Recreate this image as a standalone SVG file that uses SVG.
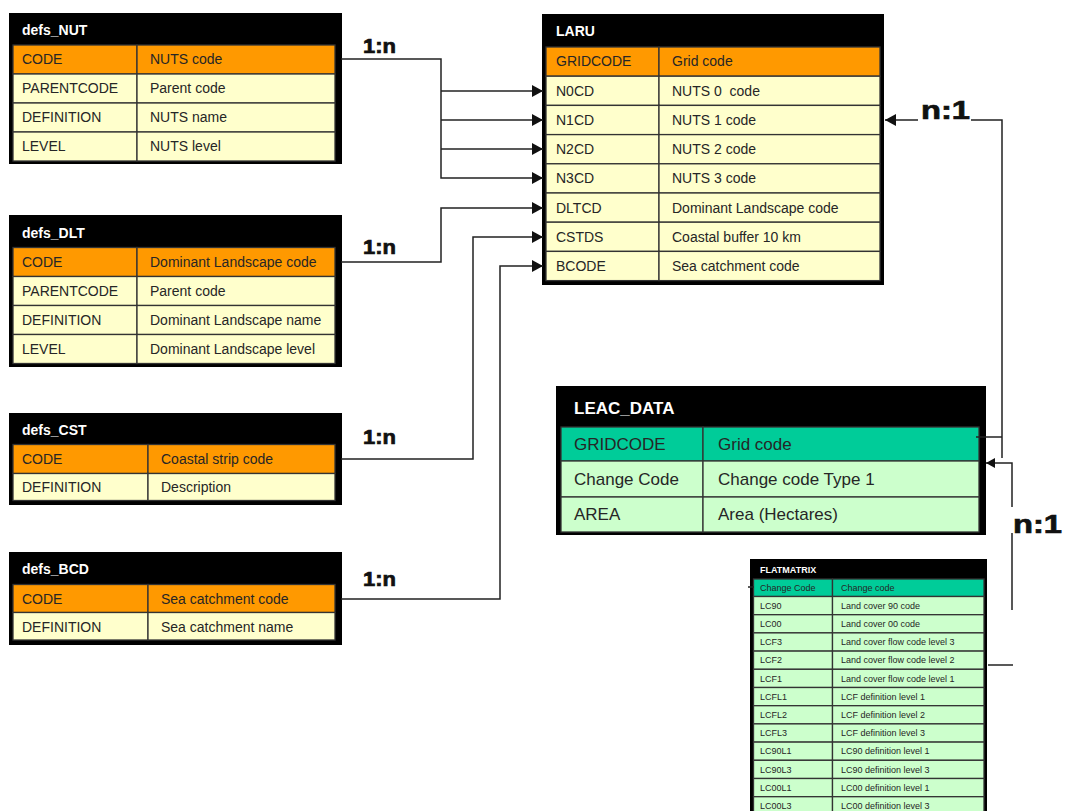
<svg xmlns="http://www.w3.org/2000/svg" width="1065" height="811" viewBox="0 0 1065 811">
<style>
.box{fill:#000}
.pk{fill:#FF9900;stroke:#333;stroke-width:1.3}
.row{fill:#FFFFCC;stroke:#333;stroke-width:1.3}
.gpk{fill:#00CC99;stroke:#333;stroke-width:1.3}
.grow{fill:#CCFFCC;stroke:#333;stroke-width:1.3}
text{font-family:"Liberation Sans",Arial,sans-serif;fill:#262626}
.t{font-size:14px}
.tl{font-size:17px}
.ts{font-size:9px}
.title{font-weight:bold;fill:#fff}
.conn{fill:none;stroke:#222;stroke-width:1.5}
.lbl{font-weight:bold;fill:#111;stroke:#111;stroke-width:0.7}
</style>
<defs>
<marker id="arr" markerUnits="userSpaceOnUse" markerWidth="12" markerHeight="12" refX="11" refY="6" orient="auto">
<path d="M0,0 L11,6 L0,12 z" fill="#111"/>
</marker>
<marker id="arrs" markerUnits="userSpaceOnUse" markerWidth="10" markerHeight="10" refX="9" refY="5" orient="auto">
<path d="M0,0 L9,5 L0,10 z" fill="#111"/>
</marker>
</defs>

<g id="defs_NUT">
<rect class="box" x="9" y="13" width="333" height="151"/>
<text class="t title" x="22" y="35">defs_NUT</text>
<rect class="pk" x="13" y="45" width="124" height="29"/><rect class="pk" x="137" y="45" width="198" height="29"/>
<rect class="row" x="13" y="74" width="124" height="29"/><rect class="row" x="137" y="74" width="198" height="29"/>
<rect class="row" x="13" y="103" width="124" height="29"/><rect class="row" x="137" y="103" width="198" height="29"/>
<rect class="row" x="13" y="132" width="124" height="29"/><rect class="row" x="137" y="132" width="198" height="29"/>
<text class="t" x="22" y="64">CODE</text><text class="t" x="150" y="64">NUTS code</text>
<text class="t" x="22" y="93">PARENTCODE</text><text class="t" x="150" y="93">Parent code</text>
<text class="t" x="22" y="122">DEFINITION</text><text class="t" x="150" y="122">NUTS name</text>
<text class="t" x="22" y="151">LEVEL</text><text class="t" x="150" y="151">NUTS level</text>
</g>

<g id="defs_DLT">
<rect class="box" x="9" y="215" width="333" height="152"/>
<text class="t title" x="22" y="238">defs_DLT</text>
<rect class="pk" x="13" y="247.5" width="124" height="29"/><rect class="pk" x="137" y="247.5" width="198" height="29"/>
<rect class="row" x="13" y="276.5" width="124" height="29"/><rect class="row" x="137" y="276.5" width="198" height="29"/>
<rect class="row" x="13" y="305.5" width="124" height="29"/><rect class="row" x="137" y="305.5" width="198" height="29"/>
<rect class="row" x="13" y="334.5" width="124" height="29"/><rect class="row" x="137" y="334.5" width="198" height="29"/>
<text class="t" x="22" y="267">CODE</text><text class="t" x="150" y="267">Dominant Landscape code</text>
<text class="t" x="22" y="296">PARENTCODE</text><text class="t" x="150" y="296">Parent code</text>
<text class="t" x="22" y="325">DEFINITION</text><text class="t" x="150" y="325">Dominant Landscape name</text>
<text class="t" x="22" y="354">LEVEL</text><text class="t" x="150" y="354">Dominant Landscape level</text>
</g>

<g id="defs_CST">
<rect class="box" x="9" y="413" width="333" height="92"/>
<text class="t title" x="22" y="435">defs_CST</text>
<rect class="pk" x="13" y="444.5" width="135" height="29"/><rect class="pk" x="148" y="444.5" width="187" height="29"/>
<rect class="row" x="13" y="473.5" width="135" height="27"/><rect class="row" x="148" y="473.5" width="187" height="27"/>
<text class="t" x="22" y="464">CODE</text><text class="t" x="161" y="464">Coastal strip code</text>
<text class="t" x="22" y="492">DEFINITION</text><text class="t" x="161" y="492">Description</text>
</g>

<g id="defs_BCD">
<rect class="box" x="9" y="552" width="333" height="93"/>
<text class="t title" x="22" y="574">defs_BCD</text>
<rect class="pk" x="13" y="584.5" width="135" height="28"/><rect class="pk" x="148" y="584.5" width="187" height="28"/>
<rect class="row" x="13" y="612.5" width="135" height="27.5"/><rect class="row" x="148" y="612.5" width="187" height="27.5"/>
<text class="t" x="22" y="604">CODE</text><text class="t" x="161" y="604">Sea catchment code</text>
<text class="t" x="22" y="632">DEFINITION</text><text class="t" x="161" y="632">Sea catchment name</text>
</g>

<g id="LARU">
<rect class="box" x="542" y="14" width="342" height="271"/>
<text class="t title" x="556" y="36">LARU</text>
<rect class="pk" x="546" y="47" width="113" height="29.2"/><rect class="pk" x="659" y="47" width="221" height="29.2"/>
<rect class="row" x="546" y="76.2" width="113" height="29.2"/><rect class="row" x="659" y="76.2" width="221" height="29.2"/>
<rect class="row" x="546" y="105.4" width="113" height="29.2"/><rect class="row" x="659" y="105.4" width="221" height="29.2"/>
<rect class="row" x="546" y="134.6" width="113" height="29.2"/><rect class="row" x="659" y="134.6" width="221" height="29.2"/>
<rect class="row" x="546" y="163.8" width="113" height="29.2"/><rect class="row" x="659" y="163.8" width="221" height="29.2"/>
<rect class="row" x="546" y="193" width="113" height="29.2"/><rect class="row" x="659" y="193" width="221" height="29.2"/>
<rect class="row" x="546" y="222.2" width="113" height="29.2"/><rect class="row" x="659" y="222.2" width="221" height="29.2"/>
<rect class="row" x="546" y="251.4" width="113" height="29.2"/><rect class="row" x="659" y="251.4" width="221" height="29.2"/>
<text class="t" x="556" y="66">GRIDCODE</text><text class="t" x="672" y="66">Grid code</text>
<text class="t" x="556" y="96">N0CD</text><text class="t" x="672" y="96" style="white-space:pre">NUTS 0  code</text>
<text class="t" x="556" y="125">N1CD</text><text class="t" x="672" y="125">NUTS 1 code</text>
<text class="t" x="556" y="154">N2CD</text><text class="t" x="672" y="154">NUTS 2 code</text>
<text class="t" x="556" y="183">N3CD</text><text class="t" x="672" y="183">NUTS 3 code</text>
<text class="t" x="556" y="213">DLTCD</text><text class="t" x="672" y="213">Dominant Landscape code</text>
<text class="t" x="556" y="242">CSTDS</text><text class="t" x="672" y="242">Coastal buffer 10 km</text>
<text class="t" x="556" y="271">BCODE</text><text class="t" x="672" y="271">Sea catchment code</text>
</g>

<g id="LEAC_DATA">
<rect class="box" x="556" y="386" width="430" height="149"/>
<text class="tl title" x="574" y="414">LEAC_DATA</text>
<rect class="gpk" x="561" y="427" width="142" height="34"/><rect class="gpk" x="703" y="427" width="276" height="34"/>
<rect class="grow" x="561" y="461" width="142" height="36"/><rect class="grow" x="703" y="461" width="276" height="36"/>
<rect class="grow" x="561" y="497" width="142" height="35"/><rect class="grow" x="703" y="497" width="276" height="35"/>
<text class="tl" x="574" y="450">GRIDCODE</text><text class="tl" x="718" y="450">Grid code</text>
<text class="tl" x="574" y="485">Change Code</text><text class="tl" x="718" y="485">Change code Type 1</text>
<text class="tl" x="574" y="520">AREA</text><text class="tl" x="718" y="520">Area (Hectares)</text>
</g>

<g id="FLATMATRIX">
<rect class="box" x="750" y="559" width="237" height="260"/>
<text class="ts title" x="760" y="573">FLATMATRIX</text>
<rect class="gpk" x="753.5" y="579" width="79" height="17.5"/><rect class="gpk" x="832.5" y="579" width="151.5" height="17.5"/>
<text class="ts" x="760" y="591">Change Code</text><text class="ts" x="841" y="591">Change code</text>
<g>
<rect class="grow" x="753.5" y="596.5" width="79" height="18.2"/><rect class="grow" x="832.5" y="596.5" width="151.5" height="18.2"/>
<rect class="grow" x="753.5" y="614.7" width="79" height="18.2"/><rect class="grow" x="832.5" y="614.7" width="151.5" height="18.2"/>
<rect class="grow" x="753.5" y="632.9" width="79" height="18.2"/><rect class="grow" x="832.5" y="632.9" width="151.5" height="18.2"/>
<rect class="grow" x="753.5" y="651.1" width="79" height="18.2"/><rect class="grow" x="832.5" y="651.1" width="151.5" height="18.2"/>
<rect class="grow" x="753.5" y="669.3" width="79" height="18.2"/><rect class="grow" x="832.5" y="669.3" width="151.5" height="18.2"/>
<rect class="grow" x="753.5" y="687.5" width="79" height="18.2"/><rect class="grow" x="832.5" y="687.5" width="151.5" height="18.2"/>
<rect class="grow" x="753.5" y="705.7" width="79" height="18.2"/><rect class="grow" x="832.5" y="705.7" width="151.5" height="18.2"/>
<rect class="grow" x="753.5" y="723.9" width="79" height="18.2"/><rect class="grow" x="832.5" y="723.9" width="151.5" height="18.2"/>
<rect class="grow" x="753.5" y="742.1" width="79" height="18.2"/><rect class="grow" x="832.5" y="742.1" width="151.5" height="18.2"/>
<rect class="grow" x="753.5" y="760.3" width="79" height="18.2"/><rect class="grow" x="832.5" y="760.3" width="151.5" height="18.2"/>
<rect class="grow" x="753.5" y="778.5" width="79" height="18.2"/><rect class="grow" x="832.5" y="778.5" width="151.5" height="18.2"/>
<rect class="grow" x="753.5" y="796.7" width="79" height="18.2"/><rect class="grow" x="832.5" y="796.7" width="151.5" height="18.2"/>
</g>
<text class="ts" x="760" y="609">LC90</text><text class="ts" x="841" y="609">Land cover 90 code</text>
<text class="ts" x="760" y="627">LC00</text><text class="ts" x="841" y="627">Land cover 00 code</text>
<text class="ts" x="760" y="645">LCF3</text><text class="ts" x="841" y="645">Land cover flow code level 3</text>
<text class="ts" x="760" y="663">LCF2</text><text class="ts" x="841" y="663">Land cover flow code level 2</text>
<text class="ts" x="760" y="681.5">LCF1</text><text class="ts" x="841" y="681.5">Land cover flow code level 1</text>
<text class="ts" x="760" y="699.5">LCFL1</text><text class="ts" x="841" y="699.5">LCF definition level 1</text>
<text class="ts" x="760" y="718">LCFL2</text><text class="ts" x="841" y="718">LCF definition level 2</text>
<text class="ts" x="760" y="736">LCFL3</text><text class="ts" x="841" y="736">LCF definition level 3</text>
<text class="ts" x="760" y="754">LC90L1</text><text class="ts" x="841" y="754">LC90 definition level 1</text>
<text class="ts" x="760" y="772.5">LC90L3</text><text class="ts" x="841" y="772.5">LC90 definition level 3</text>
<text class="ts" x="760" y="790.5">LC00L1</text><text class="ts" x="841" y="790.5">LC00 definition level 1</text>
<text class="ts" x="760" y="809">LC00L3</text><text class="ts" x="841" y="809">LC00 definition level 3</text>
</g>

<g id="connectors">
<path class="conn" d="M341,59 H441 V178 H543" marker-end="url(#arr)"/>
<path class="conn" d="M441,91 H543" marker-end="url(#arr)"/>
<path class="conn" d="M441,120 H543" marker-end="url(#arr)"/>
<path class="conn" d="M441,149 H543" marker-end="url(#arr)"/>
<path class="conn" d="M341,262 H441 V208 H543" marker-end="url(#arr)"/>
<path class="conn" d="M341,459 H473 V237 H543" marker-end="url(#arr)"/>
<path class="conn" d="M341,599 H500 V266 H543" marker-end="url(#arr)"/>
<path class="conn" d="M1002,458 V120 H971 M918,120 H885" marker-end="url(#arr)"/>
<path class="conn" d="M976,437 H1002"/>
<path class="conn" d="M1012,610 V533 M1012,507 V463 H986" marker-end="url(#arrs)"/>
<path class="conn" d="M988,665 H1013"/>
<path class="conn" d="M748,587 H754"/>
<text class="lbl" x="363" y="53" font-size="20" textLength="33" lengthAdjust="spacingAndGlyphs">1:n</text>
<text class="lbl" x="363" y="254" font-size="20" textLength="33" lengthAdjust="spacingAndGlyphs">1:n</text>
<text class="lbl" x="363" y="444" font-size="20" textLength="33" lengthAdjust="spacingAndGlyphs">1:n</text>
<text class="lbl" x="363" y="586" font-size="20" textLength="33" lengthAdjust="spacingAndGlyphs">1:n</text>
<text class="lbl" x="921" y="119" font-size="25" textLength="49" lengthAdjust="spacingAndGlyphs">n:1</text>
<text class="lbl" x="1013" y="533" font-size="25" textLength="49" lengthAdjust="spacingAndGlyphs">n:1</text>
</g>
</svg>
